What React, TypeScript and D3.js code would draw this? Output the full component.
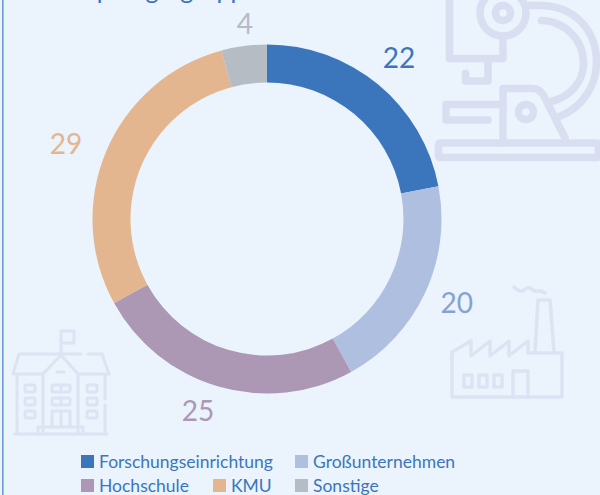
import React from "react";
import * as d3 from "d3";

const categories = ["Forschungseinrichtung", "Großunternehmen", "Hochschule", "KMU", "Sonstige"];
const values = [22, 20, 25, 28.8, 4.2];
const colors = ["#3b76bc", "#aebfe0", "#ac98b4", "#e3b690", "#b6bcc4"];
const labelColors = ["#3b76bc", "#85a2d4", "#ac98b4", "#e3b690", "#b6bcc4"];
const FONT = "Lato, 'Noto Sans', sans-serif";
const W = 600, H = 495, CX = 267, CY = 219, R = 174.5, r = 136.5;
const ICON = "#d9dff1";
const ICON_LIGHT = "#dde3f3";
// distance of each value label from the chart centre, and its small angular correction
const labelRadius = [209, 207, 203, 215, 197];
const labelTurn = [-0.4, -1.6, 3.7, -2.3, 1.1];

const pie = d3.pie<number>().sort(null).value((d) => d);
const arc = d3.arc<d3.PieArcDatum<number>>().innerRadius(r).outerRadius(R);

const legendRows = [
  [{ i: 0, x: 81 }, { i: 1, x: 295 }],
  [{ i: 2, x: 81 }, { i: 3, x: 213 }, { i: 4, x: 295 }],
];

export default function App() {
  const arcs = pie(values);
  return (
    <svg width={W} height={H} viewBox={`0 0 ${W} ${H}`} style={{ position: "absolute", left: 0, top: 0, display: "block" }}>
      <rect width={W} height={H} fill="#ebf3fc" />
      <rect x={2} y={0} width={1.6} height={H} fill="#6f9bd6" />
      <text x={62} y={-1} fontFamily={FONT} fontSize={25} fill="#3b76bc">Empfängergruppe</text>

      {/* microscope */}
      <g fill="none" stroke={ICON} strokeWidth={7.5} strokeLinecap="round" strokeLinejoin="round">
        <circle cx={503} cy={13} r={23} />
        <circle cx={503} cy={13} r={7.5} />
        <path d="M449.5 -10V58.5H503V36M488 58.5V81H465.5V73.5" />
        <path d="M527 5.5H540C574 5.5 596.5 30 596.5 62C596.5 90 578 110 558 117" />
        <path d="M541.5 20.5C565 21 583.5 40 583.5 63C583.5 84 568 98 549 102" />
        <path d="M503 143V88.5H532C538 88.5 541 91 544 96L565 138" />
        <path d="M503 104.5H446V120H488" />
        <circle cx={526} cy={112} r={7.5} />
        <rect x={438.5} y={143} width={160} height={14.5} rx={1.5} />
      </g>

      {/* school */}
      <g fill="none" stroke={ICON_LIGHT} strokeWidth={3} strokeLinecap="round" strokeLinejoin="round">
        <path d="M61 354V331H74V343H61" />
        <path d="M81 354H19L13 374H43L61 355L78 374H109L102 354H88M43 374V434M78 374V434M17 375V434M105 375V399M105 405V434M15 434H107" />
        <path d="M57 372H64M38 434V427H83V434M52 427V411H70V427M61 411V427" />
        {[0, 1, 2].map((k) => (
          <g key={k}>
            <rect x={25} y={385 + k * 13} width={10} height={7} rx={1.5} />
            <rect x={87} y={385 + k * 13} width={10} height={7} rx={1.5} />
          </g>
        ))}
        {[0, 1].map((k) => (
          <g key={k}>
            <rect x={52} y={385 + k * 13} width={18} height={7} rx={1.5} />
            <path d={`M61 ${385 + k * 13}v7`} />
          </g>
        ))}
      </g>

      {/* factory */}
      <g fill="none" stroke={ICON_LIGHT} strokeWidth={3.5} strokeLinecap="round" strokeLinejoin="round">
        <path d="M452 397H562V353H528V341L509 356V341L490 356V341L471 356V341L452 352V397" />
        <path d="M535 352L538 300H550L554 352" />
        <path d="M514 287C518 290 521 293 524 290C527 287 530 287 533 290C536 293 539 289 545 293" />
        <path d="M513 397V371H528V397" />
        <rect x={464} y={375} width={8} height={12} />
        <rect x={479} y={375} width={8} height={12} />
        <rect x={494} y={375} width={8} height={12} />
      </g>

      <g transform={`translate(${CX},${CY})`}>
        {arcs.map((a, i) => <path key={i} d={arc(a) ?? ""} fill={colors[i]} />)}
        {arcs.map((a, i) => {
          const mid = (a.startAngle + a.endAngle) / 2 + (labelTurn[i] * Math.PI) / 180;
          const [x, y] = d3.pointRadial(mid, labelRadius[i]);
          return (
            <text key={i} x={x} y={y} textAnchor="middle" dominantBaseline="central" fontFamily={FONT} fontSize={28} fill={labelColors[i]}>
              {Math.round(values[i])}
            </text>
          );
        })}
      </g>

      {legendRows.map((row, ri) =>
        row.map(({ i, x }) => (
          <g key={i} transform={`translate(${x},${455 + ri * 24})`}>
            <rect width={13} height={13} fill={colors[i]} />
            <text x={18} y={12.5} fontFamily={FONT} fontSize={17.5} fill="#3b76bc">{categories[i]}</text>
          </g>
        ))
      )}
    </svg>
  );
}
